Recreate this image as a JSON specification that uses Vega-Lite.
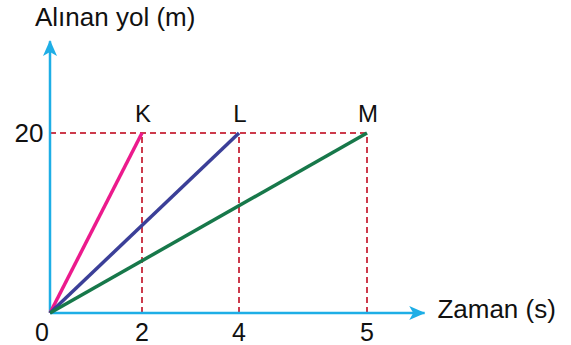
{
  "$schema": "https://vega.github.io/schema/vega-lite/v6.json",
  "width": 521,
  "height": 273,
  "autosize": "none",
  "padding": {"left": 50, "top": 40, "right": 0, "bottom": 32},
  "background": "white",
  "config": {"view": {"stroke": null}, "text": {"font": "Liberation Sans"}},
  "datasets": {
    "axes": [
      {"x": 0, "y": 0, "x2": 5.45, "y2": 0},
      {"x": 0, "y": 0, "x2": 0, "y2": 30.2}
    ],
    "guides": [
      {"x": 0, "y": 20, "x2": 5, "y2": 20},
      {"x": 2, "y": 0, "x2": 2, "y2": 20},
      {"x": 4, "y": 0, "x2": 4, "y2": 20},
      {"x": 5, "y": 0, "x2": 5, "y2": 20}
    ],
    "lines": [
      {"name": "K", "x": 0, "y": 0, "x2": 2, "y2": 20},
      {"name": "L", "x": 0, "y": 0, "x2": 4, "y2": 20},
      {"name": "M", "x": 0, "y": 0, "x2": 5, "y2": 20}
    ],
    "ticks": [
      {"label": "2", "x": 2, "y": 0},
      {"label": "4", "x": 4, "y": 0},
      {"label": "5", "x": 5, "y": 0}
    ],
    "names": [
      {"label": "K", "x": 2, "y": 20},
      {"label": "L", "x": 4, "y": 20},
      {"label": "M", "x": 5, "y": 20}
    ]
  },
  "layer": [
    {
      "data": {"name": "guides"},
      "mark": {"type": "rule", "color": "#cc3b4c", "strokeWidth": 2, "strokeDash": [6, 4]},
      "encoding": {
        "x": {"field": "x", "type": "quantitative", "scale": {"domain": [0, 2, 4, 5, 6], "range": [0, 92, 189, 317, 445], "nice": false}, "axis": null},
        "y": {"field": "y", "type": "quantitative", "scale": {"domain": [0, 30.33], "nice": false}, "axis": null},
        "x2": {"field": "x2"},
        "y2": {"field": "y2"}
      }
    },
    {
      "data": {"name": "axes"},
      "mark": {"type": "rule", "color": "#1eaee6", "strokeWidth": 2.5},
      "encoding": {
        "x": {"field": "x", "type": "quantitative"},
        "y": {"field": "y", "type": "quantitative"},
        "x2": {"field": "x2"},
        "y2": {"field": "y2"}
      }
    },
    {
      "data": {"name": "lines"},
      "mark": {"type": "rule", "strokeWidth": 3.5},
      "encoding": {
        "x": {"field": "x", "type": "quantitative"},
        "y": {"field": "y", "type": "quantitative"},
        "x2": {"field": "x2"},
        "y2": {"field": "y2"},
        "color": {"field": "name", "type": "nominal", "scale": {"domain": ["K", "L", "M"], "range": ["#ec1a8c", "#3b3f98", "#17784a"]}, "legend": null}
      }
    },
    {
      "data": {"values": [{"x": 5.455, "y": 0}]},
      "mark": {"type": "point", "filled": true, "color": "#1eaee6", "opacity": 1, "size": 400, "shape": "M0,0L-1.6,-0.7L-1.2,0L-1.6,0.7Z"},
      "encoding": {"x": {"field": "x", "type": "quantitative"}, "y": {"field": "y", "type": "quantitative"}}
    },
    {
      "data": {"values": [{"x": 0, "y": 30.33}]},
      "mark": {"type": "point", "filled": true, "color": "#1eaee6", "opacity": 1, "size": 400, "shape": "M0,0L-0.7,1.6L0,1.2L0.7,1.6Z"},
      "encoding": {"x": {"field": "x", "type": "quantitative"}, "y": {"field": "y", "type": "quantitative"}}
    },
    {
      "data": {"name": "ticks"},
      "mark": {"type": "text", "fontSize": 25, "dy": 20, "baseline": "middle", "align": "center", "color": "#111"},
      "encoding": {"x": {"field": "x", "type": "quantitative"}, "y": {"field": "y", "type": "quantitative"}, "text": {"field": "label"}}
    },
    {
      "data": {"values": [{"label": "0", "x": 0, "y": 0}]},
      "mark": {"type": "text", "fontSize": 25, "dy": 20, "dx": -8, "baseline": "middle", "align": "center", "color": "#111"},
      "encoding": {"x": {"field": "x", "type": "quantitative"}, "y": {"field": "y", "type": "quantitative"}, "text": {"field": "label"}}
    },
    {
      "data": {"values": [{"label": "20", "x": 0, "y": 20}]},
      "mark": {"type": "text", "fontSize": 26, "dx": -21, "dy": 1, "baseline": "middle", "align": "center", "color": "#111"},
      "encoding": {"x": {"field": "x", "type": "quantitative"}, "y": {"field": "y", "type": "quantitative"}, "text": {"field": "label"}}
    },
    {
      "data": {"name": "names"},
      "mark": {"type": "text", "fontSize": 24, "dy": -18, "dx": 1, "baseline": "middle", "align": "center", "color": "#111"},
      "encoding": {"x": {"field": "x", "type": "quantitative"}, "y": {"field": "y", "type": "quantitative"}, "text": {"field": "label"}}
    },
    {
      "data": {"values": [{"label": "Zaman (s)", "x": 5.55, "y": 0}]},
      "mark": {"type": "text", "fontSize": 26, "dy": -3, "baseline": "middle", "align": "left", "color": "#111"},
      "encoding": {"x": {"field": "x", "type": "quantitative"}, "y": {"field": "y", "type": "quantitative"}, "text": {"field": "label"}}
    },
    {
      "data": {"values": [{"label": "Alınan yol (m)", "x": 0, "y": 32.8}]},
      "mark": {"type": "text", "fontSize": 26, "dx": -15, "baseline": "middle", "align": "left", "color": "#111"},
      "encoding": {"x": {"field": "x", "type": "quantitative"}, "y": {"field": "y", "type": "quantitative"}, "text": {"field": "label"}}
    }
  ]
}
